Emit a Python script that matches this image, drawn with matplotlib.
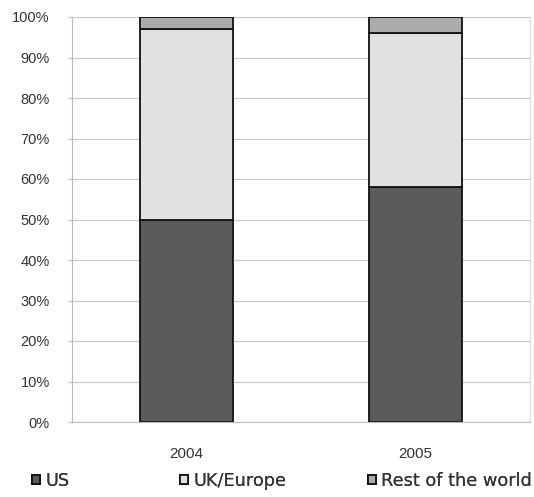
import matplotlib
matplotlib.use("Agg")
import matplotlib.pyplot as plt
import matplotlib.ticker as ticker
import numpy as np

years = ["2004", "2005"]
us = [50, 58]
uk_europe = [47, 38]
rest_of_world = [3, 4]

series = [("US", us, "#5b5b5b"),
          ("UK/Europe", uk_europe, "#dfe1e3"),
          ("Rest of the world", rest_of_world, "#a9abad")]

plt.rcParams["font.family"] = ["Liberation Sans", "DejaVu Sans"]

fig = plt.figure(figsize=(5.34, 4.97), dpi=100)
ax = fig.add_axes([72 / 534, 75 / 497, 458 / 534, 405 / 497])

x = np.arange(len(years))
bottom = np.zeros(len(years))
handles = []
for name, vals, col in series:
    b = ax.bar(x, vals, bottom=bottom, width=0.405, color=col,
               edgecolor="#111111", linewidth=1.3, label=name)
    handles.append(b)
    bottom += np.array(vals)

ax.set_xlim(-0.5, 1.5)
ax.set_ylim(0, 100)
ax.yaxis.set_major_locator(ticker.MultipleLocator(10))
ax.yaxis.set_major_formatter(ticker.FuncFormatter(lambda v, _: f"{v:.0f}%"))
ax.set_xticks(x)
ax.set_xticklabels(years)
ax.grid(axis="y", color="#c8c8c8", linewidth=0.8)
ax.set_axisbelow(True)

ax.spines["top"].set_visible(False)
ax.spines["left"].set_color("#bbbbbb")
ax.spines["right"].set_color("#dddddd")
ax.spines["bottom"].set_color("#bbbbbb")
ax.tick_params(axis="y", length=3, color="#bbbbbb", labelsize=10.5, labelcolor="#333333", pad=13)
ax.tick_params(axis="x", length=0, labelsize=11, labelcolor="#333333", pad=18)

# one legend per entry so the uneven spacing of the original can be kept
legend_x = [32, 180, 368]
for h, (name, _, _), lx in zip(handles, series, legend_x):
    leg = fig.legend(handles=[h], labels=[name], loc="center left",
                     bbox_to_anchor=(lx / 534, 1 - 481 / 497), frameon=False,
                     borderpad=0, borderaxespad=0,
                     prop={"family": "DejaVu Sans", "size": 12.8},
                     handlelength=0.45, handleheight=0.45, handletextpad=0.3)
    leg.get_texts()[0].set_color("#333333")
    fig.add_artist(leg)

plt.savefig("out.png", dpi=100)
